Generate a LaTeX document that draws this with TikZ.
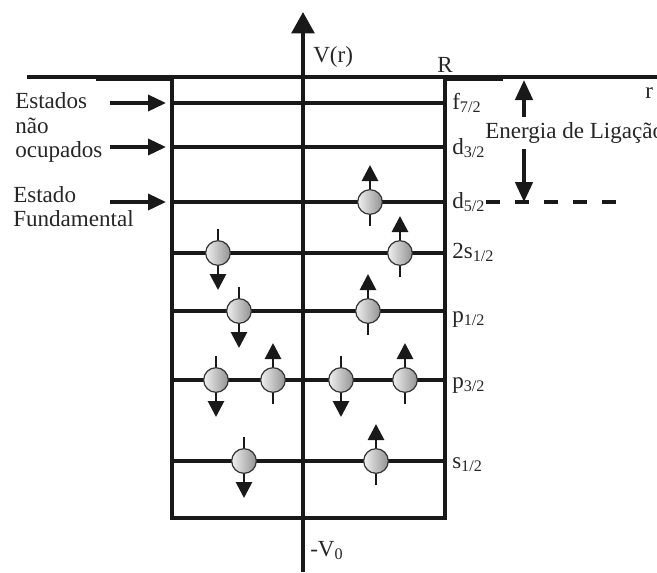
\documentclass[tikz,border=0pt]{standalone}
\usepackage{fontspec}
\setmainfont{Liberation Serif}
\usetikzlibrary{arrows.meta}
\begin{document}
\begin{tikzpicture}[x=0.75pt,y=-0.75pt,
  wall/.style={line width=2.7pt, draw=black!90},
  level/.style={line width=2.7pt, draw=black!90},
  lbl/.style={font=\fontsize{17.3}{20}\selectfont, inner sep=0pt, anchor=base west, text=black!85},
  bigtip/.style={-{Triangle[length=13.5pt,width=12pt]}},
  spin/.style={line width=2.1pt, draw=black!90, -{Triangle[length=12pt,width=12pt]}},
  particle/.style={circle, minimum size=18.5pt, inner sep=0pt, draw=black!80, line width=0.9pt,
                   left color=gray!12, right color=gray!85}]
\useasboundingbox (0,0) rectangle (657,572);

% well corners
\coordinate (TL) at (172,77);
\coordinate (TR) at (445,77);
\coordinate (BL) at (172,518);
\coordinate (BR) at (445,518);
\coordinate (LineL) at (27,77);
\coordinate (LineR) at (657,77);

% top line and corner thickening
\draw[line width=3pt, draw=black!90] (LineL) -- (LineR);
\coordinate (CL1) at (96,79.5); \coordinate (CL2) at (172,79.5);
\coordinate (CR1) at (443,79.5); \coordinate (CR2) at (503,79.5);
\draw[line width=2.7pt, draw=black!90] (CL1) -- (CL2);
\draw[line width=2.7pt, draw=black!90] (CR1) -- (CR2);

% well
\draw[wall] (TL) -- (BL) -- (BR) -- (TR);

% levels
\foreach \yy [count=\k] in {103,147,202,253,311,380,461}{
  \coordinate (lvL\k) at (172,\yy);
  \coordinate (lvR\k) at (445,\yy);
  \draw[level] (lvL\k) -- (lvR\k);
}

% vertical axis
\coordinate (axB) at (303,572);
\coordinate (axT) at (303,12);
\draw[line width=2.7pt, draw=black!90, -{Triangle[length=16pt,width=17pt]}] (axB) -- (axT);

% left arrows
\foreach \yy [count=\k] in {103,147,202}{
  \coordinate (la\k) at (110,\yy);
  \coordinate (lb\k) at (166,\yy);
  \draw[line width=2.7pt, draw=black!90, bigtip] (la\k) -- (lb\k);
}

% binding energy arrows
\coordinate (eu1) at (524,117); \coordinate (eu2) at (524,80);
\coordinate (ed1) at (524,149); \coordinate (ed2) at (524,202);
\draw[line width=2.7pt, draw=black!90, -{Triangle[length=15pt,width=13pt]}] (eu1) -- (eu2);
\draw[line width=2.7pt, draw=black!90, -{Triangle[length=15pt,width=13pt]}] (ed1) -- (ed2);

% dashed line
\coordinate (ds1) at (486,202); \coordinate (ds2) at (616,202);
\draw[line width=2.7pt, draw=black!90, dash pattern=on 10.5pt off 11.25pt] (ds1) -- (ds2);

% particles with spins: x, y, direction (1 = up, -1 = down)
\foreach \px/\py/\d [count=\k] in {370/202/1, 218/253/-1, 400/253/1, 239/311/-1, 368/311/1,
                                   216/380/-1, 273/380/1, 341/380/-1, 405/380/1,
                                   244/461/-1, 376/461/1}{
  \coordinate (st\k) at (\px,\py+24*\d);
  \coordinate (sh\k) at (\px,\py-37*\d);
  \draw[spin] (st\k) -- (sh\k);
  \node[particle] (p\k) at (\px,\py) {};
}

% labels
\node[lbl] (t1) at (15,108) {Estados};
\node[lbl] (t2) at (15,133) {não};
\node[lbl] (t3) at (15,157) {ocupados};
\node[lbl] (t4) at (13,202) {Estado};
\node[lbl] (t5) at (13,226) {Fundamental};

\node[lbl] (vr) at (313,62) {V(r)};
\node[lbl, anchor=base] (R) at (445,72) {R};
\node[lbl] (r) at (645,98) {r};
\node[lbl] (v0) at (310,556) {-V\textsubscript{0}};
\node[lbl] (en) at (485,138) {Energia de Ligação};

\node[lbl] (s1) at (452,109) {f\textsubscript{7/2}};
\node[lbl] (s2) at (452,154) {d\textsubscript{3/2}};
\node[lbl] (s3) at (452,208) {d\textsubscript{5/2}};
\node[lbl] (s4) at (452,258) {2s\textsubscript{1/2}};
\node[lbl] (s5) at (452,322) {p\textsubscript{1/2}};
\node[lbl] (s6) at (452,388) {p\textsubscript{3/2}};
\node[lbl] (s7) at (452,468) {s\textsubscript{1/2}};
\end{tikzpicture}
\end{document}
